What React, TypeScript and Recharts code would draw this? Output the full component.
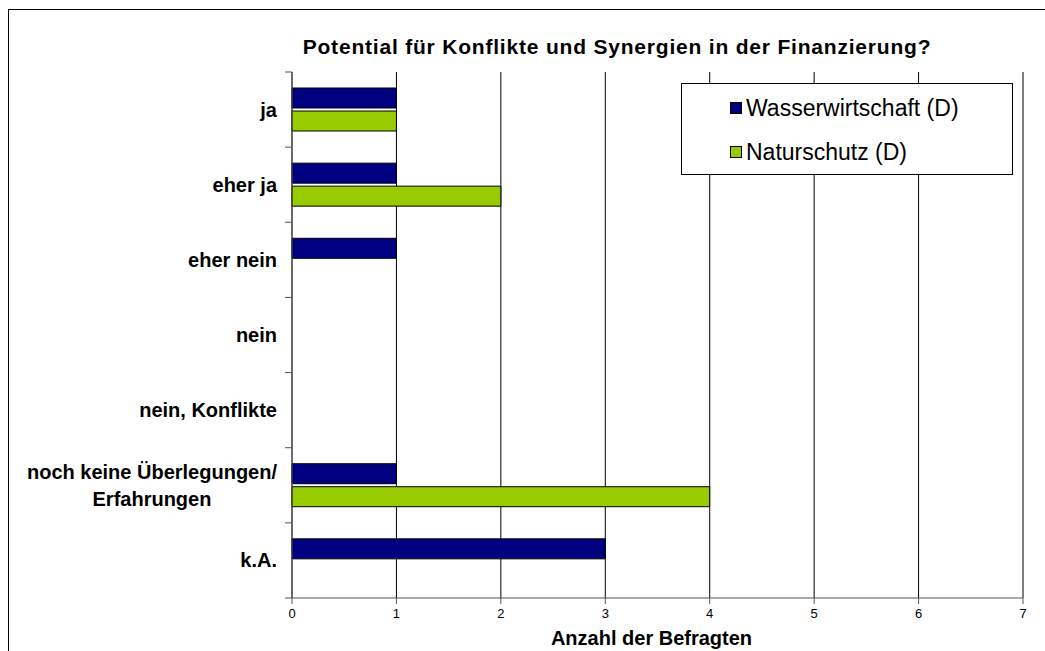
import { BarChart, Bar, XAxis, YAxis, CartesianGrid, Legend } from 'recharts'

const categories = ['ja', 'eher ja', 'eher nein', 'nein', 'nein, Konflikte', 'noch keine Überlegungen/\nErfahrungen', 'k.A.']
const wasserwirtschaft = [1, 1, 1, 0, 0, 1, 3]
const naturschutz = [1, 2, 0, 0, 0, 4, 0]
const xTicks = [0, 1, 2, 3, 4, 5, 6, 7]
const seriesNames = ['Wasserwirtschaft (D)', 'Naturschutz (D)']
const seriesColors = ['#000080', '#99CC00']

const data = categories.map((name, i) => ({
  name,
  wasser: wasserwirtschaft[i],
  natur: naturschutz[i],
}))

const FONT = 'Arial, "Liberation Sans", sans-serif'
const LABEL_SIZE = 20

function measure(text: string) {
  const ctx = document.createElement('canvas').getContext('2d')
  if (!ctx) return text.length * 10
  ctx.font = `bold ${LABEL_SIZE}px ${FONT}`
  return ctx.measureText(text).width
}

function CategoryTick(props: any) {
  const { x, y, payload, index } = props
  const half = payload.offset ?? 0
  const lines = String(payload.value).split('\n')
  const right = x - 15
  const width0 = measure(lines[0])
  return (
    <g>
      <line x1={x - 7} x2={x} y1={y - half} y2={y - half} stroke="#555" />
      {index === categories.length - 1 && <line x1={x - 7} x2={x} y1={y + half} y2={y + half} stroke="#555" />}
      {lines.length === 1 ? (
        <text x={right} y={y} dy="0.35em" textAnchor="end" fontFamily={FONT} fontWeight="bold" fontSize={LABEL_SIZE} fill="#000">
          {lines[0]}
        </text>
      ) : (
        lines.map((l, i) => (
          <text key={i} x={right - width0 / 2} y={y + (i - (lines.length - 1) / 2) * 27} dy="0.35em" textAnchor="middle" fontFamily={FONT} fontWeight="bold" fontSize={LABEL_SIZE} fill="#000">
            {l}
          </text>
        ))
      )}
    </g>
  )
}

function LegendBox() {
  return (
    <div style={{ width: 332, height: 92, border: '1px solid #000', background: '#fff', boxSizing: 'border-box', paddingTop: 11, paddingLeft: 48, fontFamily: FONT, fontSize: 23, color: '#000' }}>
      {seriesNames.map((n, i) => (
        <div key={n} style={{ display: 'flex', alignItems: 'center', height: 26, marginBottom: i === 0 ? 18 : 0 }}>
          <span style={{ display: 'inline-block', width: 10, height: 10, background: seriesColors[i], border: '1px solid #000', marginRight: 4 }} />
          <span>{n}</span>
        </div>
      ))}
    </div>
  )
}

export default function App() {
  return (
    <div style={{ position: 'absolute', left: 0, top: 0, width: 1045, height: 651, background: '#fff', overflow: 'hidden' }}>
      <div style={{ position: 'absolute', left: 8, top: 9, width: 1045, height: 651, borderTop: '1.5px solid #000', borderLeft: '1.5px solid #000' }} />
      <div style={{ position: 'absolute', left: 217, width: 800, top: 34, textAlign: 'center', fontFamily: FONT, fontWeight: 'bold', fontSize: 21, lineHeight: '26px', letterSpacing: 0.8, whiteSpace: 'nowrap' }}>
        Potential für Konflikte und Synergien in der Finanzierung?
      </div>
      <div style={{ position: 'absolute', left: 0, top: 0 }}>
        <BarChart
          width={1045}
          height={651}
          data={data}
          layout="vertical"
          margin={{ top: 72, right: 22, bottom: 6, left: 12 }}
          barSize={20}
          barGap={3}
        >
          <CartesianGrid horizontal={false} vertical stroke="#000" strokeWidth={1} />
          <XAxis
            type="number"
            domain={[0, 7]}
            ticks={xTicks}
            interval={0}
            height={47}
            stroke="#555"
            tickSize={6}
            tick={{ fill: '#000', fontSize: 13, fontFamily: FONT }}
            tickMargin={5}
            label={{ value: 'Anzahl der Befragten', position: 'insideBottom', offset: 0, dx: -6, fill: '#000', fontSize: 20, fontWeight: 'bold', fontFamily: FONT }}
          />
          <XAxis xAxisId="top" orientation="top" type="number" domain={[0, 7]} height={0} tick={false} tickLine={false} stroke="#999" />
          <YAxis type="category" dataKey="name" width={280} stroke="#555" tickLine={false} tickSize={0} tickMargin={0} tick={<CategoryTick />} interval={0} />
          <Legend
            layout="vertical"
            align="center"
            verticalAlign="middle"
            content={<LegendBox />}
            wrapperStyle={{ position: 'absolute', left: 681, top: 83, width: 332, height: 92 }}
          />
          <Bar dataKey="wasser" name={seriesNames[0]} fill={seriesColors[0]} stroke="#000" strokeWidth={1} isAnimationActive={false} />
          <Bar dataKey="natur" name={seriesNames[1]} fill={seriesColors[1]} stroke="#000" strokeWidth={1} isAnimationActive={false} />
        </BarChart>
      </div>
    </div>
  )
}
